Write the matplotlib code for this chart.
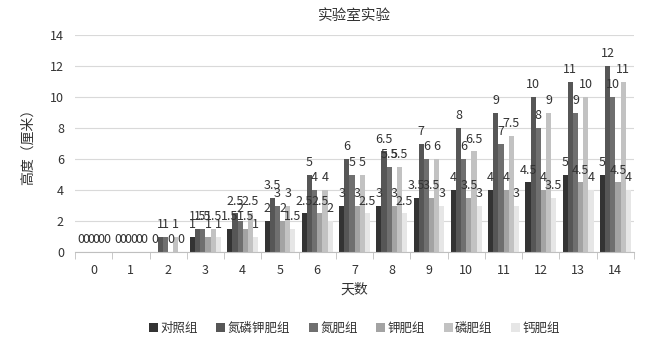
import numpy as np
import matplotlib.pyplot as plt

plt.rcParams['font.family'] = ['Noto Sans CJK SC', 'DejaVu Sans']

days = list(range(15))
groups = ["对照组", "氮磷钾肥组", "氮肥组", "钾肥组", "磷肥组", "钙肥组"]
colors = ["#333333", "#565656", "#6f6f6f", "#a3a3a3", "#c2c2c2", "#e6e6e6"]

control = [0, 0, 0, 1, 1.5, 2, 2.5, 3, 3, 3.5, 4, 4, 4.5, 5, 5]
npk     = [0, 0, 1, 1.5, 2.5, 3.5, 5, 6, 6.5, 7, 8, 9, 10, 11, 12]
nitro   = [0, 0, 1, 1.5, 2, 3, 4, 5, 5.5, 6, 6, 7, 8, 9, 10]
potash  = [0, 0, 0, 1, 1.5, 2, 2.5, 3, 3, 3.5, 3.5, 4, 4, 4.5, 4.5]
phos    = [0, 0, 1, 1.5, 2.5, 3, 4, 5, 5.5, 6, 6.5, 7.5, 9, 10, 11]
calcium = [0, 0, 0, 1, 1, 1.5, 2, 2.5, 2.5, 3, 3, 3, 3.5, 4, 4]
series = [control, npk, nitro, potash, phos, calcium]

fig = plt.figure(figsize=(6.52, 3.54), dpi=100)
ax = fig.add_axes([75/652, 1-252/354, 559/652, 217/354])

x = np.arange(len(days))
w = 0.138
for i, (vals, name, c) in enumerate(zip(series, groups, colors)):
    pos = x + (i - 2.5) * w
    ax.bar(pos, vals, w, color=c, label=name, zorder=2)
    for px, v in zip(pos, vals):
        lbl = "%g" % v
        ax.annotate(lbl, (px, v), xytext=(0, 4), textcoords="offset points",
                    ha="center", va="bottom", fontsize=9, color="#333333")

ax.set_xlim(-0.5, 14.5)
ax.set_ylim(0, 14)
ax.set_yticks(np.arange(0, 15, 2))
ax.set_xticks(x)
ax.set_xticklabels([str(d) for d in days])
ax.set_xticks(np.arange(-0.5, 15, 1), minor=True)
ax.tick_params(axis="x", which="major", length=0, pad=9, labelsize=9, colors="#333333")
ax.tick_params(axis="x", which="minor", length=5, color="#bfbfbf")
ax.tick_params(axis="y", length=0, labelsize=9, colors="#333333", pad=8)
ax.grid(axis="y", color="#d9d9d9", linewidth=0.8, zorder=0)
for s in ["top", "right", "left"]:
    ax.spines[s].set_visible(False)
ax.spines["bottom"].set_color("#bfbfbf")

ax.set_title("实验室实验", fontsize=10.5, color="#333333", pad=11)
ax.set_xlabel("天数", fontsize=10, color="#333333", labelpad=4)
ax.set_ylabel("高度（厘米）", fontsize=10, color="#333333", labelpad=11)

ax.legend(loc="upper center", bbox_to_anchor=(0.5, -0.27), ncol=6, frameon=False,
          fontsize=9, handlelength=0.7, handleheight=0.7, handletextpad=0.2,
          columnspacing=1.5, labelcolor="#333333")

fig.savefig("out.png", dpi=100)
